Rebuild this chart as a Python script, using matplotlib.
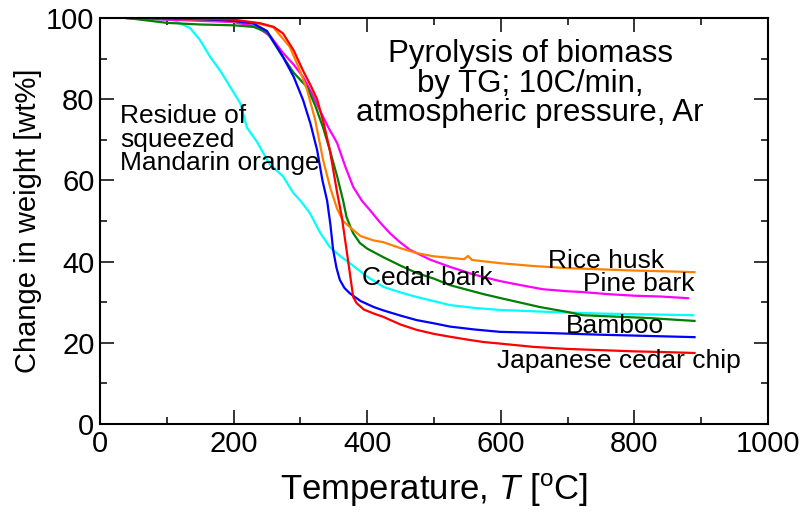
import numpy as np
import matplotlib
matplotlib.use("Agg")
import matplotlib.pyplot as plt

plt.rcParams['font.family'] = ['Liberation Sans', 'DejaVu Sans']
plt.rcParams['mathtext.fontset'] = 'custom'
plt.rcParams['mathtext.rm'] = 'Liberation Sans'
plt.rcParams['mathtext.it'] = 'Liberation Sans:italic'

# TG curves (temperature in C, weight in wt%)
red_T = [40, 100, 150, 200, 240, 260, 274, 290, 304, 315, 325, 335, 344, 355, 362, 369, 375, 379, 384,
         395, 410, 424, 450, 474, 500, 524, 550, 574, 600, 649, 700, 750, 800, 850, 890]
red_w = [100, 99.9, 99.8, 99.6, 98.7, 97.8, 96.2, 92, 87, 83.5, 80, 74, 67.5, 57, 51, 43, 36, 31.3, 29.8,
         28.2, 27.2, 26.4, 24.5, 23.2, 22.2, 21.5, 20.8, 20.2, 19.8, 19, 18.5, 18.2, 17.9, 17.7, 17.5]

blue_T = [40, 100, 150, 200, 230, 250, 274, 290, 304, 315, 325, 333, 340, 345, 349, 354, 359, 366, 374,
          390, 410, 424, 450, 474, 500, 524, 560, 599, 674, 750, 820, 890]
blue_w = [100, 99.9, 99.7, 99.3, 98.6, 96.8, 90.4, 85.5, 79.8, 74, 67.5, 60, 55, 49, 42.9, 38.5, 35.5, 33.5, 32.2,
          30.3, 28.8, 28, 26.7, 25.6, 24.8, 24, 23.3, 22.7, 22.4, 22, 21.7, 21.4]

orange_T = [40, 100, 150, 200, 230, 259, 284, 297, 310, 322, 334, 345, 355, 364, 374, 390, 410, 424, 450, 474,
            500, 545, 551, 557, 600, 650, 700, 750, 800, 850, 890]
orange_w = [100, 99.8, 99.6, 99.2, 98.9, 97.8, 92.9, 88, 82.3, 75, 65, 58, 53, 50, 48.5, 46.3, 45.2, 44.8, 43.3, 42.1,
            41.3, 40.6, 41.4, 40.4, 39.6, 38.9, 38.4, 38.1, 37.8, 37.6, 37.4]

green_T = [40, 100, 150, 200, 230, 250, 274, 290, 310, 322, 334, 344, 355, 364, 369, 375, 379, 389, 400, 424,
           450, 474, 500, 524, 574, 600, 659, 700, 723, 780, 823, 860, 890]
green_w = [100, 98.8, 98.4, 98.2, 97.8, 96.5, 90.4, 86.5, 83, 78.5, 73, 67.5, 61, 55, 51, 48.5, 47, 44.6, 43.2, 41.1,
           39, 37.2, 35.8, 34.2, 32, 31, 28.8, 27.6, 26.8, 26.4, 26.1, 25.7, 25.4]

magenta_T = [40, 100, 150, 200, 235, 255, 274, 290, 304, 317, 329, 342, 355, 367, 379, 392, 404, 419, 434, 449,
             464, 494, 524, 560, 599, 630, 663, 700, 723, 760, 800, 840, 880]
magenta_w = [100, 99.6, 99.3, 99, 97.8, 95.5, 91.4, 88.5, 85.5, 81.5, 77.3, 73, 69.2, 63.5, 58.4, 55, 52.7, 49.7, 47, 44.8,
             42.9, 40.5, 38.7, 36.8, 35.2, 34.2, 33.2, 32.7, 32.5, 32, 31.6, 31.4, 31]

cyan_T = [40, 80, 109, 135, 150, 165, 180, 195, 210, 220, 235, 254, 274, 289, 300, 314, 330, 344, 360, 374,
          400, 424, 450, 474, 524, 560, 599, 674, 750, 820, 888]
cyan_w = [100, 99.8, 99.5, 97.5, 94.5, 90.4, 87, 83, 79, 73, 69.5, 64, 61, 57, 55, 52, 47, 43.6, 41.3, 39.6,
          36.3, 33.8, 32.4, 31.3, 29.3, 28.6, 28.1, 27.6, 27.2, 27, 26.8]

fig = plt.figure(figsize=(8, 5.14), dpi=100)
ax = fig.add_axes([0.125, 0.175, 0.835, 0.79])

lw = 1.6
ax.plot(cyan_T, cyan_w, color='#00ffff', lw=lw)
ax.plot(magenta_T, magenta_w, color='#ff00ff', lw=lw)
ax.plot(green_T, green_w, color='#008000', lw=lw)
ax.plot(orange_T, orange_w, color='#ff8000', lw=lw)
ax.plot(blue_T, blue_w, color='#0000ff', lw=lw)
ax.plot(red_T, red_w, color='#ff0000', lw=lw)

ax.set_xlim(0, 1000)
ax.set_ylim(0, 100)
ax.set_xticks(np.arange(0, 1001, 200))
ax.set_xticks(np.arange(100, 1000, 200), minor=True)
ax.set_yticks(np.arange(0, 101, 20))
ax.set_yticks(np.arange(10, 100, 20), minor=True)
ax.tick_params(which='both', direction='in', top=True, right=True, width=1.1, labelsize=21, pad=4)
ax.tick_params(which='major', length=10)
ax.tick_params(which='minor', length=5)
for s in ax.spines.values():
    s.set_linewidth(1.5)

ax.set_xlabel(r'Temperature, $T$ [$^{\mathrm{o}}$C]', fontsize=25, labelpad=10)
ax.set_ylabel('Change in weight [wt%]', fontsize=21, labelpad=3)

ax.text(644, 83.8, 'Pyrolysis of biomass\nby TG; 10C/min,\natmospheric pressure, Ar',
        fontsize=22.5, ha='center', va='center', linespacing=0.98)
ax.text(30, 70, 'Residue of\nsqueezed\nMandarin orange', fontsize=19, ha='left', va='center', linespacing=0.97)
ax.text(392, 36, 'Cedar bark', fontsize=19, ha='left', va='center')
ax.text(671, 40.1, 'Rice husk', fontsize=19, ha='left', va='center')
ax.text(723, 34.5, 'Pine bark', fontsize=19, ha='left', va='center')
ax.text(698, 24.1, 'Bamboo', fontsize=19, ha='left', va='center')
ax.text(594, 15.5, 'Japanese cedar chip', fontsize=19, ha='left', va='center')

fig.savefig('out.png', dpi=100)
